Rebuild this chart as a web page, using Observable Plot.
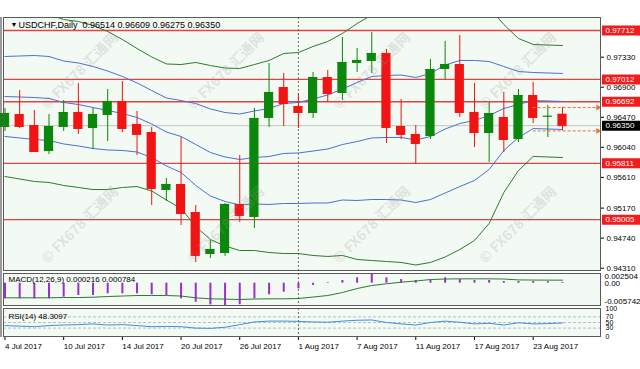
<!DOCTYPE html>
<html>
<head>
<meta charset="utf-8">
<script src="https://cdn.jsdelivr.net/npm/d3@7"></script>
<script src="https://cdn.jsdelivr.net/npm/@observablehq/plot@0.6"></script>
<style>
  html, body { margin: 0; padding: 0; background: #ffffff; }
  #chart { position: relative; width: 640px; height: 369px; overflow: hidden;
           font-family: "Liberation Sans", Arial, sans-serif; background: #ffffff; }
  #chart svg { position: absolute; left: 0; top: 0; }
  .wm { position: absolute; white-space: nowrap; font-family: "Noto Sans CJK SC", "Liberation Sans", sans-serif;
        font-weight: bold; font-size: 14px; color: rgba(150,150,150,0.24); transform: translate(-50%,-50%) rotate(-45deg);
        pointer-events: none; }
  .edge { position: absolute; left: 0; top: 17px; width: 2px; height: 320px; background: #9a9a9a; }
</style>
</head>
<body>
<div id="chart"><div class="edge"></div></div>
<script>
// ---------------- data ----------------
const symbolTitle = "USDCHF,Daily";
const dates = ["2017-07-04","2017-07-05","2017-07-06","2017-07-07","2017-07-10","2017-07-11","2017-07-12","2017-07-13","2017-07-14",
  "2017-07-17","2017-07-18","2017-07-19","2017-07-20","2017-07-21","2017-07-24","2017-07-25","2017-07-26","2017-07-27","2017-07-28",
  "2017-07-31","2017-08-01","2017-08-02","2017-08-03","2017-08-04","2017-08-07","2017-08-08","2017-08-09","2017-08-10","2017-08-11",
  "2017-08-14","2017-08-15","2017-08-16","2017-08-17","2017-08-18","2017-08-21","2017-08-22","2017-08-23","2017-08-24","2017-08-25"];
const open  = [0.96324,0.96510,0.96352,0.95980,0.96324,0.96538,0.96309,0.96496,0.96696,0.96367,0.96252,0.95422,0.95508,0.95107,0.94506,0.94520,0.95222,0.95036,0.96453,0.96896,0.96624,0.96524,0.97039,0.96810,0.97240,0.97268,0.97383,0.96338,0.96224,0.96195,0.97154,0.97225,0.96538,0.96238,0.96467,0.96152,0.96782,0.96480,0.96514];
const high  = [0.96596,0.96853,0.96567,0.96510,0.96710,0.96953,0.96596,0.96868,0.96982,0.96553,0.96324,0.95594,0.96181,0.95207,0.94706,0.95236,0.95923,0.96596,0.97240,0.97097,0.96810,0.97111,0.97140,0.97612,0.97454,0.97683,0.97440,0.96725,0.96352,0.97297,0.97555,0.97640,0.96953,0.96681,0.96825,0.96868,0.96968,0.96639,0.96609];
const low   = [0.96267,0.96309,0.95966,0.95937,0.96267,0.96224,0.96009,0.96123,0.96252,0.95923,0.95207,0.95265,0.94921,0.94392,0.94449,0.94478,0.94964,0.94878,0.96324,0.96338,0.96309,0.96453,0.96681,0.96710,0.97111,0.97097,0.96095,0.96152,0.95794,0.96152,0.97011,0.96467,0.96037,0.95823,0.95966,0.96109,0.96381,0.96181,0.96275];
const close = [0.96524,0.96338,0.95980,0.96338,0.96538,0.96309,0.96510,0.96696,0.96309,0.96224,0.95451,0.95508,0.95093,0.94492,0.94578,0.95222,0.95064,0.96453,0.96825,0.96667,0.96538,0.97039,0.96810,0.97254,0.97283,0.97383,0.96324,0.96224,0.96095,0.97154,0.97225,0.96538,0.96252,0.96524,0.96152,0.96782,0.96467,0.96484,0.96350];

// Bollinger-style envelopes
const bandUpper2 = [0.97912,0.97934,0.97955,0.97941,0.97869,0.97841,0.97784,0.97698,0.97583,0.97454,0.97333,0.97233,0.97225,0.97254,0.97211,0.97175,0.97168,0.97225,0.97283,0.97383,0.97397,0.97483,0.97555,0.97669,0.97812,0.97934,0.97955,0.97970,0.97934,0.97998,0.98134,0.98184,0.98141,0.98041,0.97798,0.97597,0.97512,0.97504,0.97497];
const bandUpper1 = [0.97340,0.97347,0.97354,0.97340,0.97275,0.97247,0.97197,0.97132,0.97054,0.96961,0.96853,0.96746,0.96710,0.96667,0.96589,0.96538,0.96517,0.96560,0.96596,0.96667,0.96682,0.96732,0.96789,0.96875,0.96968,0.97054,0.97068,0.97075,0.97039,0.97097,0.97218,0.97283,0.97283,0.97268,0.97197,0.97125,0.97111,0.97104,0.97097];
const bandMiddle = [0.96767,0.96760,0.96753,0.96739,0.96682,0.96653,0.96610,0.96567,0.96524,0.96467,0.96374,0.96259,0.96195,0.96080,0.95966,0.95902,0.95866,0.95894,0.95909,0.95952,0.95959,0.95987,0.96016,0.96080,0.96123,0.96174,0.96181,0.96181,0.96145,0.96195,0.96302,0.96381,0.96424,0.96495,0.96596,0.96653,0.96710,0.96703,0.96696];
const bandLower1 = [0.96195,0.96174,0.96152,0.96138,0.96088,0.96059,0.96023,0.96002,0.95995,0.95973,0.95894,0.95773,0.95680,0.95494,0.95343,0.95265,0.95215,0.95229,0.95222,0.95236,0.95236,0.95243,0.95243,0.95286,0.95279,0.95293,0.95293,0.95286,0.95250,0.95293,0.95386,0.95479,0.95565,0.95723,0.95995,0.96181,0.96309,0.96302,0.96295];
const bandLower2 = [0.95622,0.95587,0.95551,0.95537,0.95494,0.95465,0.95436,0.95436,0.95465,0.95479,0.95415,0.95286,0.95165,0.94907,0.94721,0.94628,0.94563,0.94563,0.94535,0.94520,0.94520,0.94492,0.94478,0.94492,0.94435,0.94420,0.94406,0.94392,0.94356,0.94392,0.94470,0.94578,0.94707,0.94950,0.95394,0.95708,0.95909,0.95902,0.95894];

const macdMain   = [-0.00402,-0.00402,-0.00402,-0.00402,-0.00361,-0.00317,-0.00317,-0.00273,-0.00273,-0.00273,-0.00299,-0.00317,-0.00402,-0.00490,-0.00560,-0.005742,-0.00555,-0.00402,-0.00299,-0.00232,-0.00144,-0.00059,0.00015,0.00070,0.00139,0.002504,0.00139,0.00095,0.00070,0.00070,0.00139,0.00095,0.00070,0.00070,0.00044,0.00044,0.00044,0.00040,0.000216];
const macdSignal = [-0.00376,-0.00376,-0.00376,-0.00376,-0.00369,-0.00369,-0.00361,-0.00343,-0.00330,-0.00317,-0.00317,-0.00317,-0.00330,-0.00376,-0.00402,-0.00410,-0.00420,-0.00407,-0.00402,-0.00402,-0.00394,-0.00356,-0.00317,-0.00240,-0.00137,-0.00059,-0.00015,0.00026,0.00057,0.00095,0.00108,0.00113,0.00113,0.00113,0.00108,0.00085,0.00082,0.00080,0.000784];
const rsi14 = [39,37,35,39,41,42.5,45,41,42.5,39,35,36,35,30,29,33,42.5,52,55,55,54,52,51,55,58,59,50,45,41,50,55,51,45,47,41,49,45,46,48.3097];

const priceTicks = [0.97330,0.96900,0.96470,0.96040,0.95610,0.95170,0.94740,0.94310];
const levelLines = [0.97712,0.97012,0.96692,0.95811,0.95005];
const lastPrice = 0.96350;
const separatorDate = "2017-08-01";
const dateTickDates  = ["2017-07-04","2017-07-10","2017-07-14","2017-07-20","2017-07-26","2017-08-01","2017-08-07","2017-08-11","2017-08-17","2017-08-23"];
const dateTickLabels = ["4 Jul 2017","10 Jul 2017","14 Jul 2017","20 Jul 2017","26 Jul 2017","1 Aug 2017","7 Aug 2017","11 Aug 2017","17 Aug 2017","23 Aug 2017"];
const macdScale = [0.002504, -0.005742];
const rsiLevels = [30, 50, 70];
const rsiTicks = [0, 30, 50, 70, 100];

// ---------------- build ----------------
const bars = dates.map((d, i) => ({
  i, date: d, open: open[i], high: high[i], low: low[i], close: close[i],
  up: close[i] >= open[i],
  u2: bandUpper2[i], u1: bandUpper1[i], m: bandMiddle[i], l1: bandLower1[i], l2: bandLower2[i],
  macd: macdMain[i], signal: macdSignal[i], rsi: rsi14[i]
}));
const last = bars[bars.length - 1];
const sepIdx = dates.indexOf(separatorDate);
const tickIdx = dateTickDates.map(d => dates.indexOf(d));
const tickLabelOf = new Map(tickIdx.map((t, k) => [t, dateTickLabels[k]]));

const W = 640, H = 369;
const xDomain = [-0.102, 40.59];
const pxPerBar = (600 - 3) / (xDomain[1] - xDomain[0]);
const xRight = xDomain[1];
const boxX1 = xRight + 2 / pxPerBar, boxX2 = xRight + 42 / pxPerBar;
const halfBody = 4.6 / pxPerBar;

const BG = "#f3f9f3", FRAME = "#5a5a5a";
const BULL = "#0b870b", BEAR = "#f01414";
const GREEN_BAND = "#2f7a2f", BLUE_BAND = "#4d70d6";
const LEVEL = "#e04545", LABELBOX = "#f21c1c";
const FONT = "'Liberation Sans', Arial, sans-serif";

const common = {
  width: W, height: H, marginLeft: 3, marginRight: 40,
  x: {domain: xDomain, axis: null, label: null},
  color: {type: "identity"},
  style: {background: "transparent", overflow: "visible", fontFamily: FONT, color: "#000"}
};

const main = Plot.plot({
  ...common,
  marginTop: 17, marginBottom: H - 270,
  y: {domain: [0.94277, 0.97898], axis: null, label: null},
  marks: [
    Plot.frame({fill: BG}),
    Plot.ruleY([lastPrice], {stroke: "#c4c4c4"}),
    Plot.ruleY(levelLines, {stroke: LEVEL, strokeWidth: 1.3}),
    Plot.ruleX([sepIdx], {stroke: "#6a6a6a", strokeDasharray: "2,2"}),
    Plot.line(bars, {x: d => d.i, y: d => d.u2, stroke: GREEN_BAND, strokeWidth: 1, clip: true}),
    Plot.line(bars, {x: d => d.i, y: d => d.l2, stroke: GREEN_BAND, strokeWidth: 1, clip: true}),
    Plot.line(bars, {x: d => d.i, y: d => d.u1, stroke: BLUE_BAND, strokeWidth: 1, clip: true}),
    Plot.line(bars, {x: d => d.i, y: d => d.m, stroke: BLUE_BAND, strokeWidth: 1, clip: true}),
    Plot.line(bars, {x: d => d.i, y: d => d.l1, stroke: BLUE_BAND, strokeWidth: 1, clip: true}),
    Plot.ruleX(bars, {x: d => d.i, y1: d => d.low, y2: d => d.high, stroke: d => d.up ? BULL : BEAR, strokeWidth: 1}),
    Plot.rect(bars, {x1: d => d.i - halfBody, x2: d => d.i + halfBody, y1: d => d.open, y2: d => d.close,
                     fill: d => d.up ? BULL : BEAR}),
    Plot.ruleY(bars, {y: d => d.close, x1: d => d.i - halfBody, x2: d => d.i + halfBody, stroke: d => d.up ? BULL : BEAR}),
    Plot.ruleY([last.high, last.low], {x1: 36, x2: xRight - 1.5 / pxPerBar, stroke: "#e8703a", strokeDasharray: "3,2"}),
    Plot.dot([last.high, last.low], {x: xRight - 2.5 / pxPerBar, y: d => d, symbol: "triangle", rotate: 90, r: 2.2, fill: "#e8703a", stroke: "none"}),
    Plot.axisY(priceTicks, {anchor: "right", tickFormat: d => d.toFixed(5), tickSize: 3, tickPadding: 3, fontSize: 8, label: null}),
    Plot.ruleY(levelLines, {x1: boxX1, x2: boxX2, stroke: LABELBOX, strokeWidth: 10}),
    Plot.text(levelLines, {x: boxX1, y: d => d, text: d => d.toFixed(5), dx: 3, textAnchor: "start", fill: "#ffffff", fontSize: 8}),
    Plot.ruleY([lastPrice], {x1: boxX1, x2: boxX2, stroke: "#000000", strokeWidth: 10}),
    Plot.text([lastPrice], {x: boxX1, y: d => d, text: d => d.toFixed(5), dx: 3, textAnchor: "start", fill: "#ffffff", fontSize: 8}),
    Plot.frame({stroke: FRAME}),
    Plot.text(["\u25BC"], {frameAnchor: "top-left", dx: 7, dy: 5, textAnchor: "start", lineAnchor: "top", fontSize: 7, fill: "#000"}),
    Plot.text([`${symbolTitle}  ${last.open.toFixed(5)} ${last.high.toFixed(5)} ${last.low.toFixed(5)} ${last.close.toFixed(5)}`],
      {frameAnchor: "top-left", dx: 15, dy: 4, textAnchor: "start", lineAnchor: "top", fontSize: 9, fill: "#000"})
  ]
});

const macdPlot = Plot.plot({
  ...common,
  marginTop: 273, marginBottom: H - 305,
  y: {domain: [macdScale[1], macdScale[0]], axis: null, label: null},
  marks: [
    Plot.frame({fill: BG}),
    Plot.ruleX([sepIdx], {stroke: "#6a6a6a", strokeDasharray: "2,2"}),
    Plot.ruleX(bars, {x: d => d.i, y1: 0, y2: d => d.macd, stroke: "#9b2fc9", strokeWidth: 2}),
    Plot.line(bars, {x: d => d.i, y: d => d.signal, stroke: "#2f7a2f", strokeWidth: 1}),
    Plot.text([`MACD(12,26,9) ${macdMain[macdMain.length-1].toFixed(6)} ${macdSignal[macdSignal.length-1].toFixed(6)}`],
      {frameAnchor: "top-left", dx: 5, dy: 3, textAnchor: "start", lineAnchor: "top", fontSize: 8, fill: "#000"}),
    Plot.text([macdScale[0]], {frameAnchor: "right", y: d => d, text: d => d.toFixed(6), dx: 4, textAnchor: "start", lineAnchor: "top", fontSize: 8, fill: "#000"}),
    Plot.text([0], {frameAnchor: "right", y: d => d, text: () => "0.00", dx: 4, textAnchor: "start", lineAnchor: "middle", fontSize: 8, fill: "#000"}),
    Plot.text([macdScale[1]], {frameAnchor: "right", y: d => d, text: d => d.toFixed(6), dx: 4, dy: -2, textAnchor: "start", lineAnchor: "bottom", fontSize: 8, fill: "#000"}),
    Plot.frame({stroke: FRAME})
  ]
});

const rsiPlot = Plot.plot({
  ...common,
  marginTop: 308, marginBottom: H - 336,
  y: {domain: [0, 100], axis: null, label: null},
  marks: [
    Plot.frame({fill: BG}),
    Plot.ruleY(rsiLevels, {stroke: "#b8bcc8", strokeDasharray: "3,2"}),
    Plot.ruleX([sepIdx], {stroke: "#6a6a6a", strokeDasharray: "2,2"}),
    Plot.line(bars, {x: d => d.i, y: d => d.rsi, stroke: "#3d8fe0", strokeWidth: 1}),
    Plot.text([`RSI(14) ${rsi14[rsi14.length-1].toFixed(4)}`],
      {frameAnchor: "top-left", dx: 5, dy: 5, textAnchor: "start", lineAnchor: "top", fontSize: 8, fill: "#000"}),
    Plot.axisY(rsiTicks, {anchor: "right", tickSize: 0, tickPadding: 5, fontSize: 7, label: null}),
    Plot.axisX(tickIdx, {anchor: "bottom", tickFormat: d => tickLabelOf.get(d), tickSize: 4, tickPadding: 3,
                         fontSize: 8, textAnchor: "start", label: null}),
    Plot.frame({stroke: FRAME})
  ]
});

const chart = document.getElementById("chart");
chart.append(main, macdPlot, rsiPlot);

// watermark overlay (two full rows inside the chart)
const wmText = "\u00A9 FX678 \u6C47\u901A\u7F51";
for (let r = 0; r < 2; r++) {
  for (let c = 0; c < 4; c++) {
    const el = document.createElement("div");
    el.className = "wm";
    el.textContent = wmText;
    el.style.left = (79 + 146 * c) + "px";
    el.style.top = (70 + 154 * r) + "px";
    chart.appendChild(el);
  }
}
</script>
</body>
</html>
